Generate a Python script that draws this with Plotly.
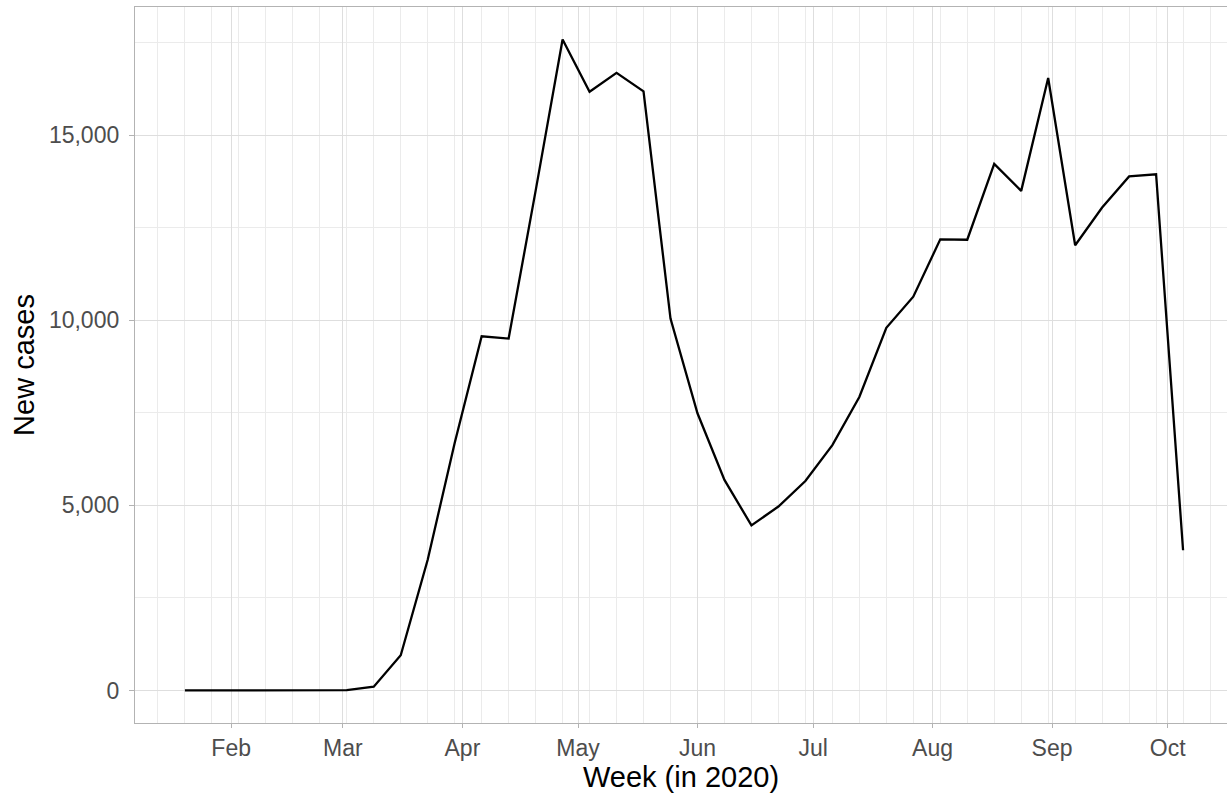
import plotly.graph_objects as go
from datetime import datetime, timedelta

weeks = [
    "2020-01-20", "2020-01-27", "2020-02-03", "2020-02-10", "2020-02-17", "2020-02-24",
    "2020-03-02", "2020-03-09", "2020-03-16", "2020-03-23", "2020-03-30", "2020-04-06",
    "2020-04-13", "2020-04-20", "2020-04-27", "2020-05-04", "2020-05-11", "2020-05-18",
    "2020-05-25", "2020-06-01", "2020-06-08", "2020-06-15", "2020-06-22", "2020-06-29",
    "2020-07-06", "2020-07-13", "2020-07-20", "2020-07-27", "2020-08-03", "2020-08-10",
    "2020-08-17", "2020-08-24", "2020-08-31", "2020-09-07", "2020-09-14", "2020-09-21",
    "2020-09-28", "2020-10-05",
]
new_cases = [
    0, 0, 0, 0, 0, 0,
    10, 100, 950, 3530, 6690, 9570,
    9510, 13500, 17590, 16180, 16690, 16190,
    10050, 7490, 5690, 4460, 4970, 5660,
    6630, 7930, 9800, 10640, 12190, 12180,
    14230, 13500, 16550, 12030, 13050, 13890,
    13950, 3790,
]
y_ticks = [0, 5000, 10000, 15000]
y_tick_labels = ["0", "5,000", "10,000", "15,000"]

# x range: ggplot-style 5% expansion on the left; right edge is cut by the image
d0 = datetime.fromisoformat(weeks[0])
d1 = datetime.fromisoformat(weeks[-1])
span_days = (d1 - d0).days
x_start = d0 - timedelta(days=span_days * 0.05)
x_end = x_start + timedelta(days=283.35)

ymin, ymax = min(new_cases), max(new_cases)
pad = (ymax - ymin) * 0.05

grid_major = "#dedede"
grid_minor = "#ebebeb"
frame = "#b3b3b3"
tick_text = "#4d4d4d"
FONT = "Liberation Sans, Arial, Helvetica, sans-serif"

fig = go.Figure()
fig.add_trace(go.Scatter(
    x=weeks, y=new_cases, mode="lines",
    line=dict(color="black", width=2.3),
    showlegend=False,
))

fig.update_layout(
    width=1227, height=794,
    margin=dict(l=135, r=0, t=7, b=71),
    paper_bgcolor="white", plot_bgcolor="white",
    font=dict(family=FONT, color=tick_text),
    xaxis=dict(
        type="date",
        range=[x_start.isoformat(), x_end.isoformat()],
        tick0="2020-02-01", dtick="M1", tickformat="%b",
        showgrid=True, gridcolor=grid_major, gridwidth=1.3,
        minor=dict(showgrid=True, gridcolor=grid_minor, gridwidth=0.8,
                   tick0="2020-01-20", dtick=7 * 86400000),
        showline=True, linecolor=frame, linewidth=1.3, mirror=True,
        ticks="outside", ticklen=4, tickcolor=frame, tickwidth=1.3,
        tickfont=dict(size=23, color=tick_text, family=FONT),
        title=dict(text="Week (in 2020)", font=dict(size=29, color="black", family=FONT), standoff=5),
        zeroline=False,
    ),
    yaxis=dict(
        range=[ymin - pad, ymax + pad],
        tickmode="array", tickvals=y_ticks, ticktext=y_tick_labels,
        showgrid=True, gridcolor=grid_major, gridwidth=1.3,
        minor=dict(showgrid=True, gridcolor=grid_minor, gridwidth=0.8, dtick=2500, tick0=0),
        showline=True, linecolor=frame, linewidth=1.3, mirror=False,
        ticks="outside", ticklen=5, tickcolor=frame, tickwidth=1.3,
        ticklabelstandoff=5,
        tickfont=dict(size=23, color=tick_text, family=FONT),
        title=dict(text="New cases", font=dict(size=29, color="black", family=FONT), standoff=5),
        zeroline=False,
    ),
)

fig.write_html(
    "out.html",
    config={"displayModeBar": False},
    post_script="document.body.style.margin='0';document.body.style.overflow='hidden';",
)
